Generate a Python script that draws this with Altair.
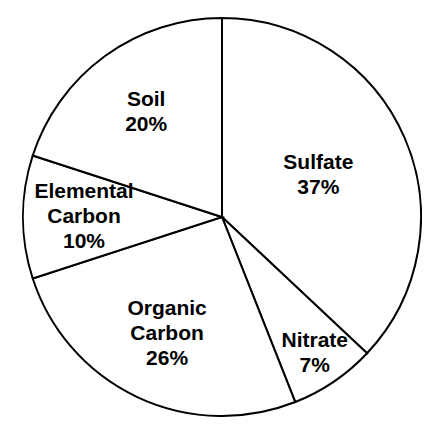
import altair as alt
import pandas as pd
import math

# Data
categories = ["Sulfate", "Nitrate", "Organic Carbon", "Elemental Carbon", "Soil"]
percent = [37, 7, 26, 10, 20]

# Layout: distance of each label block's centre from the pie centre (pixels)
label_radius = [105, 165, 129, 138, 129]

df = pd.DataFrame({
    "category": categories,
    "percent": percent,
    "order": list(range(len(categories))),
    "lr": label_radius,
})

CX, CY, R = 214, 209, 199
LINE_H = 25

theta_scale = alt.Scale(domain=[0, 100], range=[0, 2 * math.pi])

base = alt.Chart(df).transform_window(
    cum="sum(percent)", sort=[alt.SortField("order", order="ascending")]
).transform_calculate(
    start="datum.cum - datum.percent",
    mid="datum.cum - datum.percent / 2",
    label="replace(datum.category, ' ', '\\n') + '\\n' + datum.percent + '%'",
).transform_calculate(
    nl="length(split(datum.label, '\\n'))",
    t="datum.mid / 100 * 2 * PI",
).transform_calculate(
    bx="datum.lr * sin(datum.t)",
    by=f"-datum.lr * cos(datum.t) - (datum.nl - 1) * {LINE_H} / 2",
).transform_calculate(
    ar="sqrt(datum.bx * datum.bx + datum.by * datum.by)",
    at="atan2(datum.bx, -datum.by)",
).encode(
    x=alt.value(CX),
    y=alt.value(CY),
)

pie = base.mark_arc(
    radius=R, fill="white", stroke="black", strokeWidth=2
).encode(
    theta=alt.Theta("start:Q", scale=theta_scale, stack=None),
    theta2="cum:Q",
)

labels = base.mark_text(
    font="Liberation Sans",
    fontWeight="bold",
    fontSize=21,
    lineHeight=LINE_H,
    lineBreak="\n",
    align="center",
    baseline="middle",
    color="black",
).encode(
    theta=alt.Theta("at:Q", scale=None, stack=None),
    radius=alt.Radius("ar:Q", scale=None),
    text="label:N",
)

chart = alt.layer(pie, labels).properties(
    width=414,
    height=409,
    padding=0,
    autosize=alt.AutoSizeParams(type="none"),
    background="white",
).configure_view(stroke=None)

chart.save("out.html", embed_options={"renderer": "svg", "actions": False})
